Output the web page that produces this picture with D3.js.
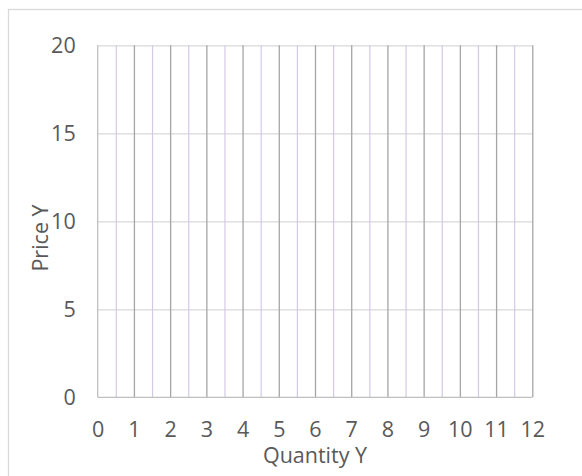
<!DOCTYPE html>
<html>
<head>
<meta charset="utf-8">
<script src="https://cdn.jsdelivr.net/npm/d3@7/dist/d3.min.js"></script>
<style>
  html, body { margin: 0; padding: 0; background: #fff; }
  svg { display: block; }
  text { font-family: "Open Sans", Lato, sans-serif; fill: #595959; }
</style>
</head>
<body>
<svg id="chart" width="582" height="476"></svg>
<script>
// Axis ranges and tick labels
const xDomain = [0, 12];
const yDomain = [0, 20];
const xTickValues = [0, 1, 2, 3, 4, 5, 6, 7, 8, 9, 10, 11, 12];
const xMinorTickValues = [0.5, 1.5, 2.5, 3.5, 4.5, 5.5, 6.5, 7.5, 8.5, 9.5, 10.5, 11.5];
const yTickValues = [0, 5, 10, 15, 20];
const xTitle = "Quantity Y";
const yTitle = "Price Y";

const width = 582, height = 476;
const margin = { left: 97.7, top: 45.3, right: width - 532.3, bottom: height - 397.3 };
const plotW = width - margin.left - margin.right;
const plotH = height - margin.top - margin.bottom;
const fontSize = "21.5px";

const svg = d3.select("#chart");

// chart frame
svg.append("rect")
  .attr("x", 8.5).attr("y", 9.5)
  .attr("width", 700).attr("height", 600)
  .attr("fill", "#fff")
  .attr("stroke", "#d9d9d9")
  .attr("stroke-width", 1.3);

const x = d3.scaleLinear().domain(xDomain).range([0, plotW]);
const y = d3.scaleLinear().domain(yDomain).range([plotH, 0]);

const g = svg.append("g").attr("transform", `translate(${margin.left},${margin.top})`);

// horizontal gridlines
g.append("g")
  .call(d3.axisLeft(y).tickValues(yTickValues.filter(v => v > 0)).tickSize(-plotW).tickFormat(""))
  .call(s => s.select(".domain").remove())
  .call(s => s.selectAll("line").attr("stroke", "#d9d9d9").attr("stroke-width", 1.2));

// minor vertical gridlines
g.append("g")
  .attr("transform", `translate(0,${plotH})`)
  .call(d3.axisBottom(x).tickValues(xMinorTickValues).tickSize(-plotH).tickFormat(""))
  .call(s => s.select(".domain").remove())
  .call(s => s.selectAll("line").attr("stroke", "#d3c9e6").attr("stroke-width", 1.2));

// major vertical gridlines
g.append("g")
  .attr("transform", `translate(0,${plotH})`)
  .call(d3.axisBottom(x).tickValues(xTickValues.filter(v => v > 0)).tickSize(-plotH).tickFormat(""))
  .call(s => s.select(".domain").remove())
  .call(s => s.selectAll("line").attr("stroke", "#a6a6a6").attr("stroke-width", 1.3));

// vertical axis line
g.append("line")
  .attr("x1", x(0)).attr("x2", x(0))
  .attr("y1", y(yDomain[1])).attr("y2", y(yDomain[0]))
  .attr("stroke", "#bfbfbf").attr("stroke-width", 1.3);

// horizontal axis line
g.append("line")
  .attr("x1", x(xDomain[0])).attr("x2", x(xDomain[1]))
  .attr("y1", y(0)).attr("y2", y(0))
  .attr("stroke", "#bfbfbf").attr("stroke-width", 1.3);

// y tick labels
g.append("g")
  .call(d3.axisLeft(y).tickValues(yTickValues).tickSize(0).tickPadding(22))
  .call(s => s.select(".domain").remove())
  .call(s => s.selectAll("text").style("font-size", fontSize).attr("fill", "#595959"));

// x tick labels
g.append("g")
  .attr("transform", `translate(0,${plotH})`)
  .call(d3.axisBottom(x).tickValues(xTickValues).tickSize(0).tickPadding(24))
  .call(s => s.select(".domain").remove())
  .call(s => s.selectAll("text").style("font-size", fontSize).attr("fill", "#595959"));

// axis titles
svg.append("text")
  .attr("x", margin.left + plotW / 2)
  .attr("y", 463)
  .attr("text-anchor", "middle")
  .style("font-size", fontSize)
  .text(xTitle);

svg.append("text")
  .attr("transform", `translate(48,238) rotate(-90)`)
  .attr("text-anchor", "middle")
  .style("font-size", fontSize)
  .text(yTitle);
</script>
</body>
</html>
